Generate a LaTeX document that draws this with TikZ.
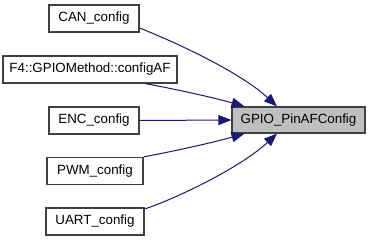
\documentclass[tikz,border=0pt]{standalone}
\usepackage{fontspec}
\setmainfont{Liberation Sans}
\usetikzlibrary{arrows.meta,calc}
\definecolor{edgeblue}{HTML}{191970}
\definecolor{boxline}{HTML}{404040}
\definecolor{boxfill}{HTML}{BFBFBF}
\begin{document}
\begin{tikzpicture}[x=1bp,y=-1bp,
  fn/.style={draw=boxline,line width=1.2bp,fill=white,inner sep=0pt,
    minimum height=27bp,font=\fontsize{13.4}{16}\selectfont},
  target/.style={fn,fill=boxfill},
  call/.style={draw=edgeblue,line width=1bp,
    -{Triangle[length=13bp,width=10bp]}}]
\useasboundingbox (0,0) rectangle (371,240);
% callers
\node[fn,minimum width=90bp]  (can)  at (94,18.5)  {CAN\_config};
\node[fn,minimum width=174bp] (f4)   at (90,69.5)  {F4::GPIOMethod::configAF};
\node[fn,minimum width=90bp]  (enc)  at (94,120.5) {ENC\_config};
\node[fn,minimum width=96bp]  (pwm)  at (95,171)   {PWM\_config};
\node[fn,minimum width=98bp]  (uart) at (95,221.5) {UART\_config};
% callee
\node[target,minimum width=133bp,minimum height=26bp] (gpio) at (298.5,120) {GPIO\_PinAFConfig};
% call edges
\draw[call] ($(can.east)+(0,9.5)$) .. controls (175,42) and (240,72) .. ($(gpio.north)+(-21.5,0)$);
\draw[call] ($(f4.south)+(55,0)$) .. controls (180,90) and (215,98) .. ($(gpio.north)+(-54,0)$);
\draw[call] (enc.east) -- (gpio.west);
\draw[call] ($(pwm.north east)$) .. controls (180,150) and (215,142) .. ($(gpio.south)+(-54,0)$);
\draw[call] ($(uart.east)+(0,-12.5)$) .. controls (175,199) and (240,168) .. ($(gpio.south)+(-21.5,0)$);
\end{tikzpicture}
\end{document}
